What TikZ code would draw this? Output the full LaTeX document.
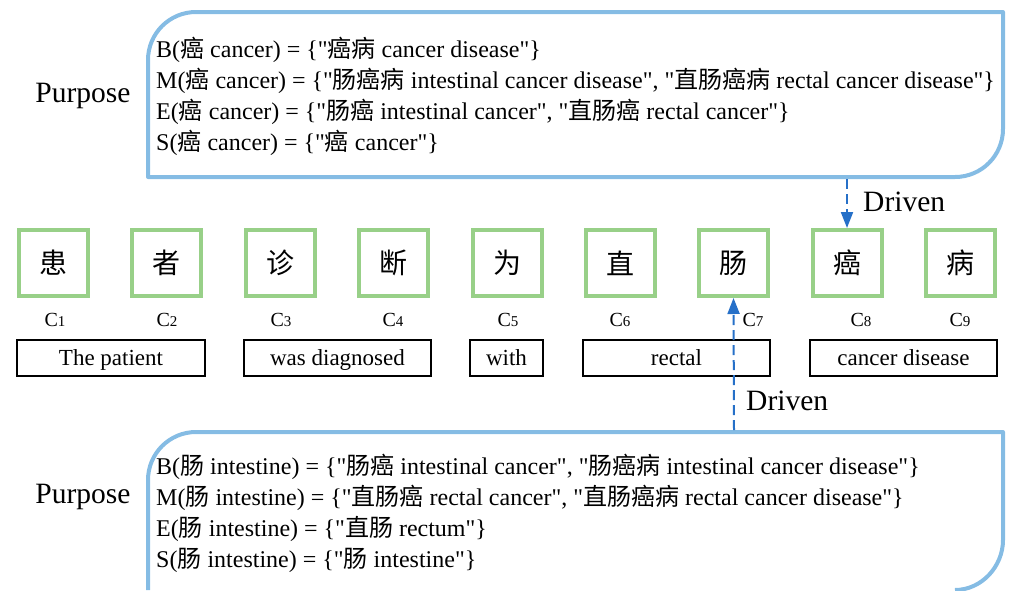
\documentclass[tikz,border=0pt]{standalone}
\usepackage{fontspec}
\setmainfont{Liberation Serif}
\newfontfamily\cjk{Noto Sans CJK SC}
\newcommand{\zh}[1]{{\cjk #1}}
\newcommand{\qq}{\textquotedbl}
\usetikzlibrary{arrows.meta}
\definecolor{lblue}{RGB}{133,188,228}
\definecolor{dblue}{RGB}{38,112,200}
\definecolor{lgreen}{RGB}{152,208,136}
\tikzset{
  panel/.style={draw=lblue, line width=4pt, line join=round},
  charbox/.style={draw=lgreen, line width=4pt, fill=white, minimum width=69pt, minimum height=66pt, inner sep=0pt, font=\fontsize{28}{28}\cjk},
  wordbox/.style={draw=black, line width=1.3pt, minimum height=36pt, inner sep=0pt, text height=17pt, text depth=3pt, font=\fontsize{23}{23}\selectfont},
  clabel/.style={font=\fontsize{20}{20}\selectfont, inner sep=0pt},
  line/.style={anchor=base west, inner sep=0pt, font=\fontsize{24}{24}\selectfont},
  bigtext/.style={font=\fontsize{29.5}{29.5}\selectfont, inner sep=0pt},
  driven/.style={draw=dblue, line width=2pt, dash pattern=on 10pt off 5pt, -{Triangle[width=12pt,length=16pt]}},
}
\newcommand{\cs}[1]{C{\fontsize{15}{15}\selectfont #1}}
\begin{document}
\begin{tikzpicture}[x=1pt,y=-1pt]
\useasboundingbox (0,0) rectangle (1010,590);
% panels
\draw[panel] (148,177) -- (148,60) .. controls (148,33.5) and (169.5,12) .. (196,12) -- (1003,12) -- (1003,129) .. controls (1003,155.5) and (981.5,177) .. (955,177) -- cycle;
\draw[panel] (148,590) -- (148,480) .. controls (148,453.5) and (169.5,432) .. (196,432) -- (1003,432) -- (1003,540) .. controls (1003,566.5) and (981.5,590) .. (955,590);
\node[bigtext] (p1) at (83,96) {Purpose};
\node[bigtext] (p2) at (83,497) {Purpose};
% top text
\node[line] (t1) at (156,57) {B(\zh{癌} cancer) = \{\qq\zh{癌病} cancer disease\qq\}};
\node[line] (t2) at (156,88) {M(\zh{癌} cancer) = \{\qq\zh{肠癌病} intestinal cancer disease\qq, \qq\zh{直肠癌病} rectal cancer disease\qq\}};
\node[line] (t3) at (156,119) {E(\zh{癌} cancer) = \{\qq\zh{肠癌} intestinal cancer\qq, \qq\zh{直肠癌} rectal cancer\qq\}};
\node[line] (t4) at (156,150) {S(\zh{癌} cancer) = \{\qq\zh{癌} cancer\qq\}};
% bottom text
\node[line] (b1) at (156,474) {B(\zh{肠} intestine) = \{\qq\zh{肠癌} intestinal cancer\qq, \qq\zh{肠癌病} intestinal cancer disease\qq\}};
\node[line] (b2) at (156,505) {M(\zh{肠} intestine) = \{\qq\zh{直肠癌} rectal cancer\qq, \qq\zh{直肠癌病} rectal cancer disease\qq\}};
\node[line] (b3) at (156,536) {E(\zh{肠} intestine) = \{\qq\zh{直肠} rectum\qq\}};
\node[line] (b4) at (156,567) {S(\zh{肠} intestine) = \{\qq\zh{肠} intestine\qq\}};
% char boxes
\node[charbox] (c1) at (53.5,263) {患};
\node[charbox] (c2) at (166.5,263) {者};
\node[charbox] (c3) at (280.5,263) {诊};
\node[charbox] (c4) at (393.5,263) {断};
\node[charbox] (c5) at (507,263) {为};
\node[charbox] (c6) at (620,263) {直};
\node[charbox] (c7) at (733.5,263) {肠};
\node[charbox] (c8) at (847,263) {癌};
\node[charbox] (c9) at (960,263) {病};
% C labels
\node[clabel] (l1) at (55,320) {\cs{1}};
\node[clabel] (l2) at (167,320) {\cs{2}};
\node[clabel] (l3) at (281,320) {\cs{3}};
\node[clabel] (l4) at (393,320) {\cs{4}};
\node[clabel] (l5) at (508,320) {\cs{5}};
\node[clabel] (l6) at (620,320) {\cs{6}};
\node[clabel] (l7) at (753,320) {\cs{7}};
\node[clabel] (l8) at (861,320) {\cs{8}};
\node[clabel] (l9) at (960,320) {\cs{9}};
% word boxes
\node[wordbox, minimum width=188pt] (w1) at (111,358) {The patient};
\node[wordbox, minimum width=187pt] (w2) at (337.5,358) {was diagnosed};
\node[wordbox, minimum width=73pt] (w3) at (506.5,358) {with};
\node[wordbox, minimum width=187pt] (w4) at (676.5,358) {rectal};
\node[wordbox, minimum width=187pt] (w5) at (903.5,358) {cancer disease};
% arrows
\coordinate (ta) at (847,179);
\coordinate (ba) at (734,430);
\draw[driven] (ta) -- (c8.north);
\draw[driven] (ba) -- (c7.south);
\node[bigtext, anchor=west] (d1) at (863,202) {Driven};
\node[bigtext, anchor=west] (d2) at (746,401) {Driven};
\end{tikzpicture}
\end{document}
